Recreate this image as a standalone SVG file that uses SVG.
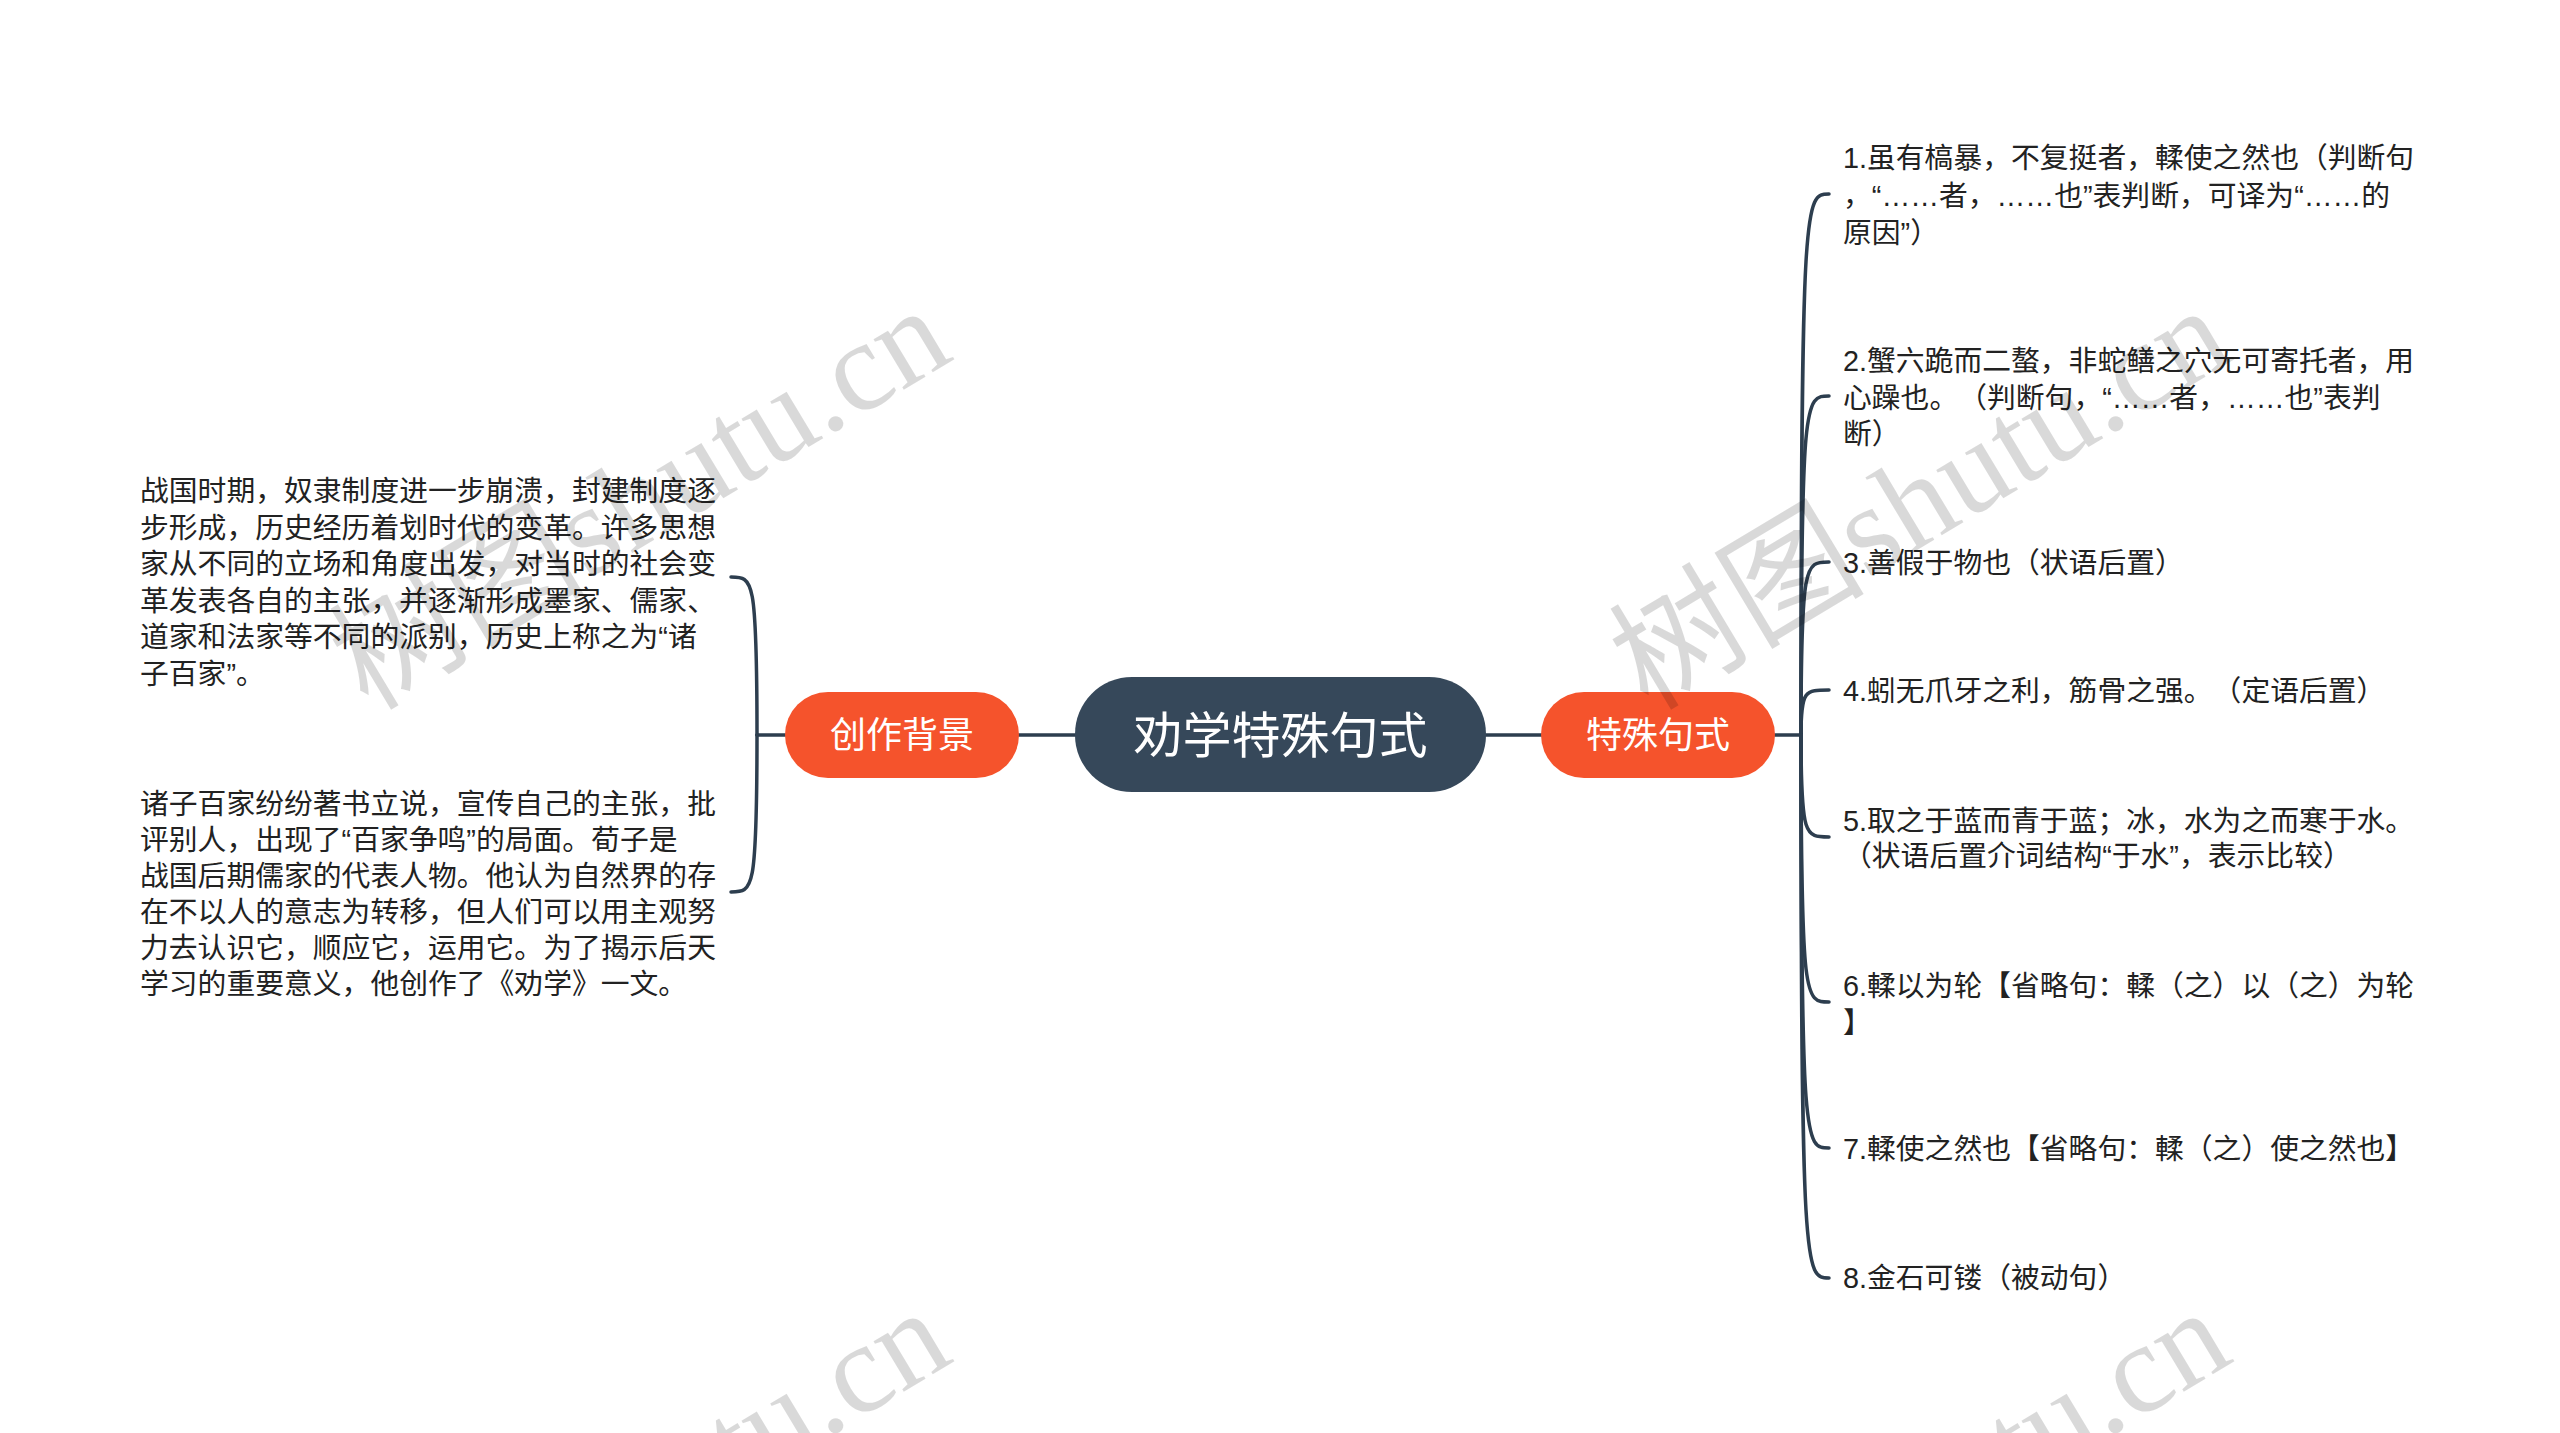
<svg xmlns="http://www.w3.org/2000/svg" width="2560" height="1433" viewBox="0 0 2560 1433">
<style>
.bg{fill:#ffffff}
.conn{fill:none;stroke:#2d3e4f;stroke-width:3.5;stroke-linecap:round}
.root{fill:#36485a}
.main{fill:#f5532c}
.rootText{font-family:"Noto Sans CJK SC","Noto Sans",sans-serif;font-size:49px;fill:#ffffff;text-anchor:middle}
.mainText{font-family:"Noto Sans CJK SC","Noto Sans",sans-serif;font-size:36px;fill:#ffffff;text-anchor:middle}
.leaf{font-family:"Liberation Sans","Noto Sans CJK SC",sans-serif;font-size:28.8px;fill:#222222;text-spacing-trim:space-all}
.wm{font-family:"Liberation Serif","Noto Sans CJK SC",serif;font-size:128px;fill:#000000;fill-opacity:0.15;text-anchor:middle}
</style>
<rect class="bg" x="0" y="0" width="2560" height="1433"/>
<g id="connectors">
<line class="conn" x1="1019" y1="735" x2="1076" y2="735"/>
<line class="conn" x1="1485" y1="735" x2="1542" y2="735"/>
<line class="conn" x1="785" y1="735" x2="757" y2="735"/>
<path class="conn" d="M757 735 C757 577 753 577 731 577"/>
<path class="conn" d="M757 735 C757 892 753 892 731 892"/>
<line class="conn" x1="1775" y1="735" x2="1801" y2="735"/>
<path class="conn" d="M1801 735 C1801 194 1805 194 1829 194"/>
<path class="conn" d="M1801 735 C1801 396 1805 396 1829 396"/>
<path class="conn" d="M1801 735 C1801 562 1805 562 1829 562"/>
<path class="conn" d="M1801 735 C1801 690 1805 690 1829 690"/>
<path class="conn" d="M1801 735 C1801 837 1805 837 1829 837"/>
<path class="conn" d="M1801 735 C1801 1002 1805 1002 1829 1002"/>
<path class="conn" d="M1801 735 C1801 1148 1805 1148 1829 1148"/>
<path class="conn" d="M1801 735 C1801 1278 1805 1278 1829 1278"/>
</g>
<g id="root">
<rect class="root" x="1075" y="677" width="411" height="115" rx="57" ry="57"/>
<text class="rootText" x="1280.5" y="753">劝学特殊句式</text>
</g>
<g id="node-background">
<rect class="main" x="785" y="692" width="234" height="86" rx="43" ry="43"/>
<text class="mainText" x="902" y="748">创作背景</text>
</g>
<g id="node-special">
<rect class="main" x="1541" y="692" width="234" height="86" rx="43" ry="43"/>
<text class="mainText" x="1658" y="748">特殊句式</text>
</g>
<g id="leaf-bg-1">
<text class="leaf" x="140" y="501">战国时期，奴隶制度进一步崩溃，封建制度逐</text>
<text class="leaf" x="140" y="538">步形成，历史经历着划时代的变革。许多思想</text>
<text class="leaf" x="140" y="574">家从不同的立场和角度出发，对当时的社会变</text>
<text class="leaf" x="140" y="611">革发表各自的主张，并逐渐形成墨家、儒家、</text>
<text class="leaf" x="140" y="647">道家和法家等不同的派别，历史上称之为“诸</text>
<text class="leaf" x="140" y="684">子百家”。</text>
</g>
<g id="leaf-bg-2">
<text class="leaf" x="140" y="814">诸子百家纷纷著书立说，宣传自己的主张，批</text>
<text class="leaf" x="140" y="850">评别人，出现了“百家争鸣”的局面。荀子是</text>
<text class="leaf" x="140" y="886">战国后期儒家的代表人物。他认为自然界的存</text>
<text class="leaf" x="140" y="922">在不以人的意志为转移，但人们可以用主观努</text>
<text class="leaf" x="140" y="958">力去认识它，顺应它，运用它。为了揭示后天</text>
<text class="leaf" x="140" y="994">学习的重要意义，他创作了《劝学》一文。</text>
</g>
<g id="leaf-s1">
<text class="leaf" x="1843" y="168">1.虽有槁暴，不复挺者，輮使之然也（判断句</text>
<text class="leaf" x="1843" y="206">，“……者，……也”表判断，可译为“……的</text>
<text class="leaf" x="1843" y="243">原因”）</text>
</g>
<g id="leaf-s2">
<text class="leaf" x="1843" y="371">2.蟹六跪而二螯，非蛇鳝之穴无可寄托者，用</text>
<text class="leaf" x="1843" y="408">心躁也。（判断句，“……者，……也”表判</text>
<text class="leaf" x="1843" y="444">断）</text>
</g>
<g id="leaf-s3">
<text class="leaf" x="1843" y="573">3.善假于物也（状语后置）</text>
</g>
<g id="leaf-s4">
<text class="leaf" x="1843" y="701">4.蚓无爪牙之利，筋骨之强。（定语后置）</text>
</g>
<g id="leaf-s5">
<text class="leaf" x="1843" y="831">5.取之于蓝而青于蓝；冰，水为之而寒于水。</text>
<text class="leaf" x="1843" y="866">（状语后置介词结构“于水”，表示比较）</text>
</g>
<g id="leaf-s6">
<text class="leaf" x="1843" y="996">6.輮以为轮【省略句：輮（之）以（之）为轮</text>
<text class="leaf" x="1843" y="1033">】</text>
</g>
<g id="leaf-s7">
<text class="leaf" x="1843" y="1159">7.輮使之然也【省略句：輮（之）使之然也】</text>
</g>
<g id="leaf-s8">
<text class="leaf" x="1843" y="1288">8.金石可镂（被动句）</text>
</g>
<g id="watermarks">
<text class="wm" x="662" y="535" transform="rotate(-31 662 535)">树图shutu.cn</text>
<text class="wm" x="1942" y="535" transform="rotate(-31 1942 535)">树图shutu.cn</text>
<text class="wm" x="662" y="1537" transform="rotate(-31 662 1537)">树图shutu.cn</text>
<text class="wm" x="1942" y="1537" transform="rotate(-31 1942 1537)">树图shutu.cn</text>
</g>
</svg>
